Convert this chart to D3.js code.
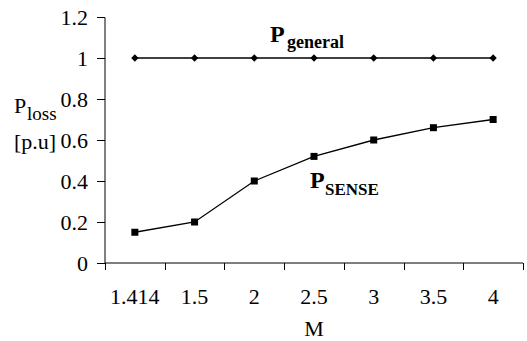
<!DOCTYPE html>
<html><head><meta charset="utf-8">
<script src="https://cdn.jsdelivr.net/npm/d3@7"></script>
<style>body{margin:0;background:#fff}svg{display:block}text{font-family:"Liberation Serif","Times New Roman",serif;fill:#000}</style>
</head><body><div id="c"></div>
<script>
const categories = ["1.414","1.5","2","2.5","3","3.5","4"];
const pGeneral = [1,1,1,1,1,1,1];
const pSense = [0.15,0.2,0.4,0.52,0.6,0.66,0.7];
const yTicks = [0,0.2,0.4,0.6,0.8,1,1.2];
const yTickLabels = ["0","0.2","0.4","0.6","0.8","1","1.2"];

const W=527,H=341;
const svg=d3.select("#c").append("svg").attr("width",W).attr("height",H);
const x=d3.scaleBand().domain(categories).range([105,523]);
const y=d3.scaleLinear().domain([0,1.2]).range([263,17]);

// y axis
const ya=svg.append("g").attr("transform","translate(105,0)")
 .call(d3.axisLeft(y).tickValues(yTicks).tickFormat((d,i)=>yTickLabels[i]).tickSize(8).tickPadding(9));
ya.select(".domain").attr("d","M-8,17.5H0V263");
ya.attr("font-family",null);
ya.selectAll("text").style("font-size","22px");

// x axis
const xa=svg.append("g").attr("transform","translate(0,263)")
 .call(d3.axisBottom(x).tickSize(0).tickPadding(0));
xa.attr("font-family",null);
xa.select(".domain").attr("d","M105,0H523");
xa.selectAll(".tick line").remove();
xa.selectAll("text").style("font-size","22px").attr("dy",null).attr("y",41);
const bounds=categories.map(c=>x(c)).concat([x.range()[1]]);
xa.selectAll(".bt").data(bounds).enter().append("line").attr("class","bt")
 .attr("x1",d=>Math.round(d)+0.5).attr("x2",d=>Math.round(d)+0.5).attr("y1",0).attr("y2",7).attr("stroke","#000");
svg.selectAll(".domain, .tick line").attr("stroke","#000").attr("stroke-width",1);

const cx=c=>x(c)+x.bandwidth()/2;
const line=d3.line().x((d,i)=>cx(categories[i])).y(d=>y(d));
svg.append("path").datum(pGeneral).attr("d",line).attr("fill","none").attr("stroke","#000").attr("stroke-width",1.3);
svg.append("path").datum(pSense).attr("d",line).attr("fill","none").attr("stroke","#000").attr("stroke-width",1.3);
svg.selectAll(".dm").data(pGeneral).enter().append("path")
 .attr("d",d3.symbol(d3.symbolDiamond2,34)())
 .attr("transform",(d,i)=>`translate(${cx(categories[i])},${y(d)})`).attr("fill","#000");
svg.selectAll(".sq").data(pSense).enter().append("rect")
 .attr("x",(d,i)=>cx(categories[i])-3.5).attr("y",d=>y(d)-3.5).attr("width",7).attr("height",7).attr("fill","#000");

// labels
svg.append("text").attr("x",270).attr("y",42).attr("font-weight","bold").style("font-size","24px").text("P")
 .append("tspan").attr("x",287).attr("y",48).style("font-size","18px").text("general");
svg.append("text").attr("x",310).attr("y",188).attr("font-weight","bold").style("font-size","24px").text("P")
 .append("tspan").attr("x",325).attr("y",195).style("font-size","17px").text("SENSE");
svg.append("text").attr("x",14).attr("y",113).style("font-size","22px").text("P")
 .append("tspan").attr("x",27).attr("y",120).style("font-size","19px").text("loss");
svg.append("text").attr("x",14).attr("y",149).style("font-size","22px").text("[p.u]");
svg.append("text").attr("x",314).attr("y",336).attr("text-anchor","middle").style("font-size","22px").text("M");
</script></body></html>
